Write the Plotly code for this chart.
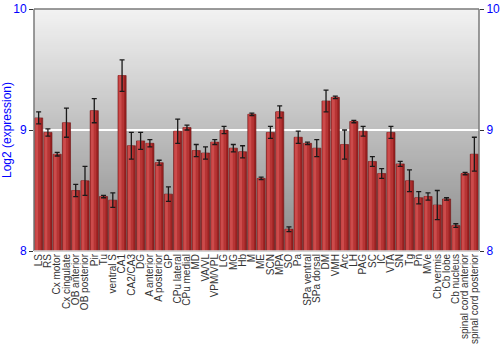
import plotly.graph_objects as go

categories = ["LS", "RS", "Cx motor", "Cx cingulate", "OB anterior", "OB posterior", "Pir", "Tu",
              "ventral S", "CA1", "CA2/CA3", "DG", "A anterior", "A posterior", "GP", "CPu lateral",
              "CPu medial", "MD", "VA/VL", "VPM/VPL", "LG", "MG", "Hb", "M", "ME", "SCN", "MPA", "SO",
              "Pa", "SPa ventral", "SPa dorsal", "DM", "VMH", "Arc", "LH", "PAG", "SC", "IC", "VTA",
              "SN", "Tg", "Pn", "MVe", "Cb vermis", "Cb lobe", "Cb nucleus", "spinal cord anterior",
              "spinal cord posterior"]
values = [9.10, 8.98, 8.80, 9.06, 8.50, 8.58, 9.16, 8.45,
          8.42, 9.45, 8.87, 8.91, 8.89, 8.73, 8.47, 8.99,
          9.02, 8.83, 8.81, 8.90, 9.00, 8.85, 8.82, 9.13, 8.60, 8.98, 9.15, 8.18,
          8.94, 8.89, 8.85, 9.24, 9.27, 8.88, 9.07, 8.99, 8.74, 8.64, 8.98,
          8.72, 8.58, 8.44, 8.45, 8.38, 8.43, 8.21, 8.64,
          8.80]
errors = [0.05, 0.03, 0.015, 0.12, 0.05, 0.12, 0.10, 0.01,
          0.06, 0.13, 0.11, 0.07, 0.03, 0.02, 0.06, 0.10,
          0.02, 0.05, 0.05, 0.02, 0.03, 0.03, 0.05, 0.01, 0.01, 0.05, 0.05, 0.02,
          0.05, 0.01, 0.07, 0.09, 0.01, 0.12, 0.01, 0.04, 0.04, 0.04, 0.05,
          0.02, 0.09, 0.05, 0.03, 0.12, 0.01, 0.015, 0.01,
          0.14]
y_ticks = [8, 9, 10]
y_range = [8, 10]

fig = go.Figure()
fig.add_trace(go.Bar(x=categories, y=values, width=0.88, offset=-0.44,
                     marker=dict(color="#9c2222", line=dict(color="#6a1010", width=0.6)),
                     hoverinfo="skip", showlegend=False))
fig.add_trace(go.Bar(x=categories, y=values, width=0.62, offset=-0.40,
                     marker=dict(color="#b63434", line=dict(width=0)),
                     hoverinfo="skip", showlegend=False))
fig.add_trace(go.Bar(x=categories, y=values, width=0.30, offset=-0.36,
                     marker=dict(color="#cc4b4b", line=dict(width=0)),
                     hoverinfo="skip", showlegend=False))
fig.add_trace(go.Bar(x=categories, y=values, width=0.88, offset=-0.44,
                     marker=dict(color="rgba(0,0,0,0)", line=dict(width=0)),
                     error_y=dict(type="data", array=errors, visible=True,
                                  color="#1a1a1a", thickness=1.3, width=2.5),
                     showlegend=False))
fig.add_trace(go.Scatter(x=[categories[0]], y=[y_range[0]], yaxis="y2",
                         mode="markers", marker=dict(opacity=0), showlegend=False,
                         hoverinfo="skip"))

shapes = []
n = 121
top = (242, 242, 242)
bot = (138, 138, 138)
for i in range(n):
    t = i / (n - 1)
    c = tuple(round(top[k] + (bot[k] - top[k]) * t) for k in range(3))
    shapes.append(dict(type="rect", xref="paper", yref="paper",
                       x0=0, x1=1, y0=1 - (i + 1) / n - 0.002, y1=1 - i / n,
                       fillcolor="rgb(%d,%d,%d)" % c, line=dict(width=0), layer="below"))
for (x0, y0, x1, y1, col) in [(0, 1, 1, 1, "#7a7a7a"), (0, 0, 0, 1, "#7a7a7a"),
                              (1, 0, 1, 1, "#7a7a7a"), (0, 0, 1, 0, "#d8d8d8")]:
    shapes.append(dict(type="line", xref="paper", yref="paper", x0=x0, y0=y0, x1=x1, y1=y1,
                       line=dict(color=col, width=1.5), layer="above"))

fig.update_layout(
    width=500, height=350,
    margin=dict(l=34, r=21, t=9, b=99, autoexpand=False),
    barmode="overlay",
    paper_bgcolor="white",
    plot_bgcolor="rgba(0,0,0,0)",
    shapes=shapes,
    font=dict(family="Liberation Sans, Arial, sans-serif"),
    xaxis=dict(tickangle=-90, tickfont=dict(size=10, color="#333333"),
               tickmode="array", tickvals=categories, ticktext=categories,
               showgrid=False, showline=False, ticks="", automargin=False,
               range=[-0.5, len(categories) - 0.5]),
    yaxis=dict(range=y_range, tickvals=y_ticks, showgrid=True, gridcolor="white",
               gridwidth=1.5, zeroline=False, ticks="outside", ticklen=4,
               tickcolor="#333333", tickfont=dict(size=12, color="#0000ff"),
               title=dict(text="Log2 (expression)", font=dict(size=12, color="#0000ff"),
                          standoff=4),
               showline=False, automargin=False),
    yaxis2=dict(range=y_range, tickvals=y_ticks, overlaying="y", side="right",
                showgrid=False, zeroline=False, ticks="outside", ticklen=4,
                tickcolor="#333333", tickfont=dict(size=12, color="#0000ff"),
                showline=False, automargin=False),
)

fig.write_html("out.html")
